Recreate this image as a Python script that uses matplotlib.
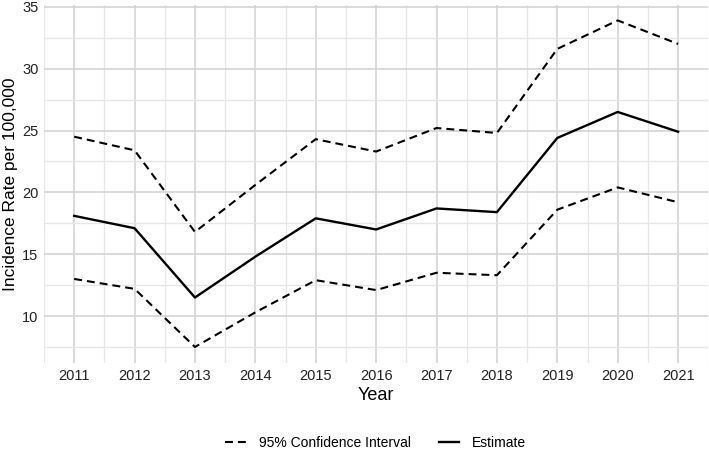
import matplotlib.pyplot as plt
from matplotlib.ticker import MultipleLocator

# data
years = [2011, 2012, 2013, 2014, 2015, 2016, 2017, 2018, 2019, 2020, 2021]
estimate = [18.1, 17.1, 11.5, 14.8, 17.9, 17.0, 18.7, 18.4, 24.4, 26.5, 24.9]
ci_upper = [24.5, 23.4, 16.8, 20.6, 24.3, 23.3, 25.2, 24.8, 31.6, 33.9, 32.0]
ci_lower = [13.0, 12.2, 7.5, 10.3, 12.9, 12.1, 13.5, 13.3, 18.6, 20.4, 19.2]

plt.rcParams['font.family'] = ['Liberation Sans', 'DejaVu Sans']

fig = plt.figure(figsize=(7.09, 4.51), dpi=100)
ax = fig.add_axes([0.062, 0.195, 0.937, 0.794])

dash = (0, (3.8, 2.4))
ax.plot(years, ci_upper, color='black', lw=1.5, linestyle=dash, label='95% Confidence Interval')
ax.plot(years, ci_lower, color='black', lw=1.5, linestyle=dash)
ax.plot(years, estimate, color='black', lw=1.7, label='Estimate')

ax.set_xlim(2010.5, 2021.5)
ax.set_ylim(6.2, 35.15)
ax.set_xticks(years)
ax.xaxis.set_minor_locator(MultipleLocator(0.5))
ax.yaxis.set_minor_locator(MultipleLocator(2.5))
ax.set_yticks([10, 15, 20, 25, 30, 35])

ax.grid(True, which='major', color='#d4d4d4', lw=1.2)
ax.grid(True, which='minor', color='#e6e6e6', lw=0.9)
ax.set_axisbelow(True)
for s in ax.spines.values():
    s.set_visible(False)
ax.tick_params(which='both', length=0)
ax.tick_params(axis='both', labelsize=10.5, colors='#222222', pad=4)

ax.set_xlabel('Year', fontsize=13, labelpad=3)
ax.set_ylabel('Incidence Rate per 100,000', fontsize=12.5, labelpad=3)

fig.legend(loc='center', bbox_to_anchor=(0.530, 0.018), ncol=2, frameon=False,
           fontsize=10, handlelength=1.5, handletextpad=0.9, columnspacing=2.0)

fig.savefig('out.png', dpi=100)
